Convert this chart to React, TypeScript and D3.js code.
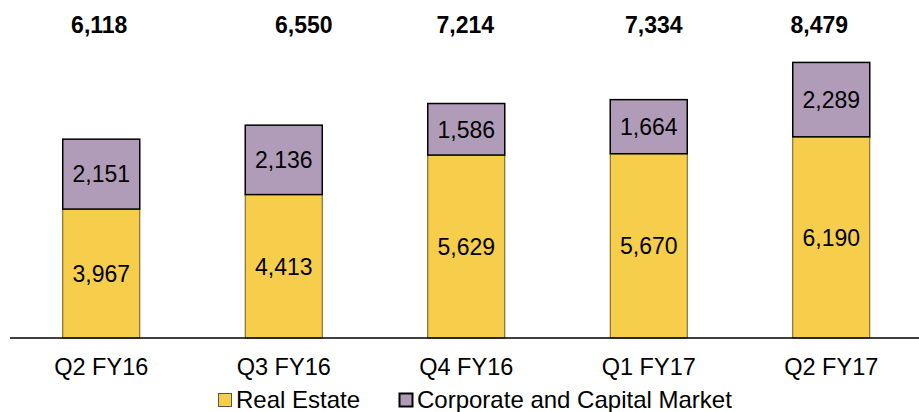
import * as d3 from 'd3'
import { useEffect, useRef } from 'react'

// quarters on the x axis
const categories = ['Q2 FY16', 'Q3 FY16', 'Q4 FY16', 'Q1 FY17', 'Q2 FY17']
const realEstate = [3967, 4413, 5629, 5670, 6190]
const corporate = [2151, 2136, 1586, 1664, 2289]
const totals = [6118, 6550, 7214, 7334, 8479]
const seriesNames = ['Real Estate', 'Corporate and Capital Market']

// the totals in the source sit a little off the bar centres
const totalNudge = [-2, 20, -1, 5, -12]

const W = 919
const H = 412
const FONT = 'Liberation Sans, Arial, sans-serif'
const YELLOW = '#F7CE4B'
const PURPLE = '#B09CB8'

const App = () => {
    const ref = useRef<SVGSVGElement>(null)

    useEffect(() => {
        const svg = d3.select(ref.current)
        svg.selectAll('*').remove()

        const baseline = 338

        const x = d3.scaleBand<string>()
            .domain(categories)
            .range([10, 922.5])
            .paddingInner(0.578)
            .paddingOuter(0.289)

        const y = d3.scaleLinear()
            .domain([0, 10000])
            .range([baseline, 13])

        const fmt = d3.format(',')

        const rows = categories.map((c, i) => ({
            cat: c,
            re: realEstate[i],
            co: corporate[i],
            total: totals[i],
            nudge: totalNudge[i]
        }))

        const bars = svg.append('g')
            .selectAll('g')
            .data(rows)
            .join('g')

        // real estate segment
        bars.append('rect')
            .attr('x', d => x(d.cat)!)
            .attr('width', x.bandwidth())
            .attr('y', d => y(d.re))
            .attr('height', d => y(0) - y(d.re))
            .attr('fill', YELLOW)
            .attr('stroke', '#6b5a1c')
            .attr('stroke-width', 1)

        // corporate segment
        bars.append('rect')
            .attr('x', d => x(d.cat)!)
            .attr('width', x.bandwidth())
            .attr('y', d => y(d.re + d.co))
            .attr('height', d => y(d.re) - y(d.re + d.co))
            .attr('fill', PURPLE)
            .attr('stroke', '#000')
            .attr('stroke-width', 1.5)

        bars.append('text')
            .attr('x', d => x(d.cat)! + x.bandwidth() / 2)
            .attr('y', d => (y(0) + y(d.re)) / 2)
            .attr('dy', '0.36em')
            .attr('text-anchor', 'middle')
            .attr('font-family', FONT)
            .attr('font-size', 23)
            .attr('fill', '#000')
            .text(d => fmt(d.re))

        bars.append('text')
            .attr('x', d => x(d.cat)! + x.bandwidth() / 2)
            .attr('y', d => (y(d.re) + y(d.re + d.co)) / 2)
            .attr('dy', '0.36em')
            .attr('text-anchor', 'middle')
            .attr('font-family', FONT)
            .attr('font-size', 23)
            .attr('fill', '#000')
            .text(d => fmt(d.co))

        // totals along the top
        bars.append('text')
            .attr('x', d => x(d.cat)! + x.bandwidth() / 2 + d.nudge)
            .attr('y', 33)
            .attr('text-anchor', 'middle')
            .attr('font-family', FONT)
            .attr('font-size', 23)
            .attr('font-weight', 'bold')
            .attr('fill', '#000')
            .text(d => fmt(d.total))

        // x axis
        const axis = svg.append('g')
            .attr('transform', `translate(0,${baseline})`)
            .call(d3.axisBottom(x).tickSize(0).tickPadding(20))

        axis.select('.domain')
            .attr('d', `M10,0H${W}`)
            .attr('stroke', '#000')
            .attr('stroke-width', 1.5)

        axis.selectAll('text')
            .attr('font-family', FONT)
            .attr('font-size', 23.5)
            .attr('fill', '#000')

        // legend
        const legend = svg.append('g')
            .attr('transform', 'translate(0,408)')

        const items = [
            { name: seriesNames[0], color: YELLOW, stroke: '#555', sw: 1, x: 218 },
            { name: seriesNames[1], color: PURPLE, stroke: '#000', sw: 2, x: 399 }
        ]

        const li = legend.selectAll('g')
            .data(items)
            .join('g')
            .attr('transform', d => `translate(${d.x},0)`)

        li.append('rect')
            .attr('x', 0.5)
            .attr('y', -14.5)
            .attr('width', 13)
            .attr('height', 13)
            .attr('fill', d => d.color)
            .attr('stroke', d => d.stroke)
            .attr('stroke-width', d => d.sw)

        li.append('text')
            .attr('x', 18)
            .attr('y', 0)
            .attr('font-family', FONT)
            .attr('font-size', 24)
            .attr('fill', '#000')
            .text(d => d.name)
    }, [])

    return (
        <svg
            ref={ref}
            width={W}
            height={H}
            style={{ position: 'absolute', left: 0, top: 0, background: '#fff' }}
        />
    )
}

export default App
